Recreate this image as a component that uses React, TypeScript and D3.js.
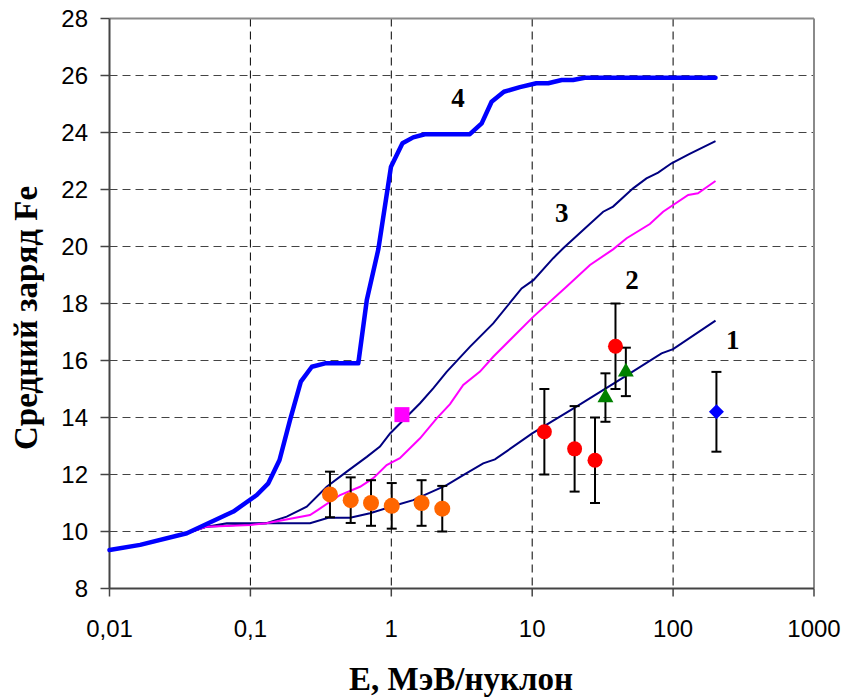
import React from "react";
import * as d3 from "d3";

// Energy per nucleon (MeV/n) and mean Fe charge along each model curve
const curve1E = [0.01, 0.0165, 0.0354, 0.049, 0.068, 0.265, 0.357, 0.51, 0.706, 1.09, 1.43, 2.47, 3.24, 4.49, 5.44, 10, 20.6, 44.2, 82.8, 100, 200];
const curve1Z = [9.35, 9.53, 9.94, 10.17, 10.29, 10.29, 10.48, 10.48, 10.64, 10.93, 11.1, 11.63, 11.98, 12.39, 12.53, 13.44, 14.38, 15.4, 16.25, 16.4, 17.4];

const curve2E = [0.01, 0.0165, 0.0354, 0.049, 0.1, 0.13, 0.265, 0.3, 0.433, 0.6, 0.745, 0.927, 1.15, 1.6, 2.1, 2.61, 3.24, 4.26, 5.29, 10.2, 17.5, 25.7, 37.5, 46.8, 68.4, 84.9, 128, 150, 200];
const curve2Z = [9.35, 9.53, 9.94, 10.17, 10.23, 10.29, 10.58, 10.75, 11.28, 11.57, 11.87, 12.33, 12.57, 13.27, 13.97, 14.47, 15.14, 15.61, 16.13, 17.54, 18.59, 19.35, 19.9, 20.29, 20.79, 21.22, 21.81, 21.87, 22.3];

const curve3E = [0.01, 0.0165, 0.0354, 0.049, 0.13, 0.181, 0.251, 0.348, 0.483, 0.67, 0.831, 0.98, 1.22, 1.6, 1.99, 2.47, 3.61, 5.29, 8.41, 10.2, 14.1, 16.6, 23, 31.9, 37.5, 52, 64.7, 78.3, 97.5, 131, 200];
const curve3Z = [9.35, 9.53, 9.94, 10.17, 10.29, 10.52, 10.87, 11.57, 12.1, 12.62, 12.98, 13.44, 13.91, 14.5, 15.03, 15.6, 16.48, 17.3, 18.53, 18.82, 19.59, 19.94, 20.58, 21.22, 21.4, 22.04, 22.39, 22.59, 22.92, 23.25, 23.7];

const curve4E = [0.01, 0.0165, 0.0354, 0.0757, 0.111, 0.134, 0.161, 0.191, 0.228, 0.273, 0.339, 0.583, 0.67, 0.809, 0.995, 1.2, 1.43, 1.73, 3.61, 4.38, 5.15, 6.3, 8.18, 10.7, 13, 16.2, 19.5, 23.6, 200];
const curve4Z = [9.35, 9.53, 9.94, 10.7, 11.28, 11.69, 12.51, 13.91, 15.26, 15.78, 15.9, 15.9, 18.12, 19.9, 22.8, 23.62, 23.83, 23.94, 23.94, 24.32, 25.08, 25.43, 25.59, 25.73, 25.73, 25.84, 25.84, 25.92, 25.92];

// Measurements with symmetric uncertainties
const orangeE = [0.367, 0.515, 0.718, 1.007, 1.64, 2.3];
const orangeZ = [11.3, 11.1, 11.0, 10.9, 11.0, 10.8];
const orangeErr = [0.8, 0.8, 0.8, 0.8, 0.8, 0.8];

const redE = [12.2, 20, 27.9, 39];
const redZ = [13.5, 12.9, 12.5, 16.5];
const redErr = [1.5, 1.5, 1.5, 1.5];

const greenE = [33.1, 46.2];
const greenZ = [14.7, 15.6];
const greenErr = [0.85, 0.85];

const blueE = [203];
const blueZ = [14.2];
const blueErr = [1.4];

const squareE = [1.19];
const squareZ = [14.1];

const xTicks = [0.01, 0.1, 1, 10, 100, 1000];
const xTickLabels = ["0,01", "0,1", "1", "10", "100", "1000"];
const yTicks = [8, 10, 12, 14, 16, 18, 20, 22, 24, 26, 28];

const curveLabelText = ["1", "2", "3", "4"];
const curveLabelE = [265, 51, 16.2, 2.97];
const curveLabelZ = [16.4, 18.5, 20.86, 24.9];

const W = 845;
const H = 699;
const left = 109.5;
const right = 814;
const top = 18.5;
const bottom = 588.5;

const serif = "'Times New Roman', 'Liberation Serif', serif";
const sans = "Arial, 'Liberation Sans', sans-serif";

export default function App() {
  const x = d3.scaleLog().domain([0.01, 1000]).range([left, right]);
  const y = d3.scaleLinear().domain([8, 28]).range([bottom, top]);

  const line = (es: number[], zs: number[]) =>
    d3.line<number>().x((_, i) => x(es[i])).y((d) => y(d))(zs) || "";

  const errBars = (es: number[], zs: number[], errs: number[]) =>
    es.map((e, i) => {
      const cx = x(e);
      const y1 = y(zs[i] + errs[i]);
      const y2 = y(zs[i] - errs[i]);
      return (
        <g key={"eb" + i} stroke="#000" strokeWidth={2}>
          <line x1={cx} x2={cx} y1={y1} y2={y2} />
          <line x1={cx - 5} x2={cx + 5} y1={y1} y2={y1} />
          <line x1={cx - 5} x2={cx + 5} y1={y2} y2={y2} />
        </g>
      );
    });

  const tri = d3.symbol().type(d3.symbolTriangle).size(110)() || "";
  const diamond = "M0,-7.5L7.5,0L0,7.5L-7.5,0Z";

  return (
    <svg width={W} height={H} style={{ position: "absolute", left: 0, top: 0, background: "#fff" }}>
      <rect x={0} y={0} width={W} height={H} fill="#fff" />
      {/* grid */}
      {yTicks.filter((t) => t > 8 && t < 28).map((t) => (
        <line key={"gy" + t} x1={left} x2={right} y1={y(t)} y2={y(t)} stroke="#444" strokeWidth={1} strokeDasharray="8,5" />
      ))}
      {xTicks.filter((t) => t > 0.01 && t < 1000).map((t) => (
        <line key={"gx" + t} x1={x(t)} x2={x(t)} y1={top} y2={bottom} stroke="#000" strokeWidth={1} strokeDasharray="8,5" />
      ))}
      {/* frame */}
      <line x1={left} x2={right} y1={top} y2={top} stroke="#8a8a8a" strokeWidth={2} />
      <line x1={right} x2={right} y1={top} y2={bottom} stroke="#8a8a8a" strokeWidth={2} />
      <line x1={left} x2={left} y1={top} y2={bottom} stroke="#444" strokeWidth={2} />
      <line x1={left} x2={right} y1={bottom} y2={bottom} stroke="#444" strokeWidth={2} />
      {/* ticks and labels */}
      {yTicks.map((t) => (
        <g key={"ty" + t}>
          <line x1={left - 9} x2={left} y1={y(t)} y2={y(t)} stroke="#444" strokeWidth={1.5} />
          <text x={88} y={y(t) + 8.5} textAnchor="end" fontFamily={sans} fontSize={24} fill="#000">
            {t}
          </text>
        </g>
      ))}
      {xTicks.map((t, i) => (
        <g key={"tx" + t}>
          <line x1={x(t)} x2={x(t)} y1={bottom} y2={bottom + 8} stroke="#444" strokeWidth={1.5} />
          <text x={x(t)} y={637} textAnchor="middle" fontFamily={sans} fontSize={24} fill="#000">
            {xTickLabels[i]}
          </text>
        </g>
      ))}
      {/* axis titles */}
      <text x={461} y={690} textAnchor="middle" fontFamily={serif} fontWeight="bold" fontSize={33} fill="#000">
        E, МэВ/нуклон
      </text>
      <text transform={`translate(37,318) rotate(-90)`} textAnchor="middle" fontFamily={serif} fontWeight="bold" fontSize={33} fill="#000">
        Средний заряд Fe
      </text>
      {/* model curves */}
      <path d={line(curve1E, curve1Z)} fill="none" stroke="#000080" strokeWidth={2} />
      <path d={line(curve3E, curve3Z)} fill="none" stroke="#000080" strokeWidth={2} />
      <path d={line(curve2E, curve2Z)} fill="none" stroke="#ff00ff" strokeWidth={2} />
      <path d={line(curve4E, curve4Z)} fill="none" stroke="#0000ff" strokeWidth={4.5} strokeLinejoin="round" strokeLinecap="round" />
      {curveLabelText.map((t, i) => (
        <text key={"cl" + t} x={x(curveLabelE[i])} y={y(curveLabelZ[i])} textAnchor="middle" fontFamily={serif} fontWeight="bold" fontSize={27} fill="#000">
          {t}
        </text>
      ))}
      {/* error bars */}
      {errBars(orangeE, orangeZ, orangeErr)}
      {errBars(redE, redZ, redErr)}
      {errBars(greenE, greenZ, greenErr)}
      {errBars(blueE, blueZ, blueErr)}
      {/* markers */}
      {orangeE.map((e, i) => (
        <circle key={"o" + i} cx={x(e)} cy={y(orangeZ[i])} r={8} fill="#ff6600" />
      ))}
      {redE.map((e, i) => (
        <circle key={"r" + i} cx={x(e)} cy={y(redZ[i])} r={7.5} fill="#ff0000" />
      ))}
      {greenE.map((e, i) => (
        <path key={"g" + i} d={tri} transform={`translate(${x(e)},${y(greenZ[i])})`} fill="#008000" />
      ))}
      {blueE.map((e, i) => (
        <path key={"b" + i} d={diamond} transform={`translate(${x(e)},${y(blueZ[i])})`} fill="#0000ff" />
      ))}
      {squareE.map((e, i) => (
        <rect key={"s" + i} x={x(e) - 7.5} y={y(squareZ[i]) - 7.5} width={15} height={15} fill="#ff00ff" />
      ))}
    </svg>
  );
}
